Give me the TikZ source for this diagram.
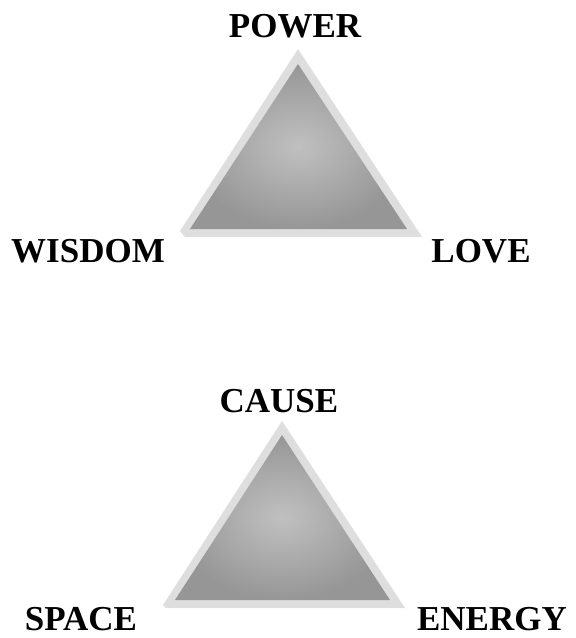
\documentclass[tikz,border=0pt]{standalone}
\usepackage{fontspec}
\setmainfont{Liberation Serif}
\definecolor{rimgray}{RGB}{222,222,222}
\definecolor{facedark}{RGB}{150,150,150}
\definecolor{facelight}{RGB}{192,192,192}
\usetikzlibrary{positioning}

\begin{document}
\begin{tikzpicture}[
  x=1pt,y=-1pt,
  every node/.style={font=\fontsize{35}{40}\selectfont\bfseries,inner sep=0pt},
  lbl/.style={anchor=base},
  rim/.style={fill=rimgray,draw=none},
  face/.style={inner color=facelight,outer color=facedark,draw=none},
]
  \useasboundingbox (0,0) rectangle (576,638);

  % Upper triangle
  \fill[rim] (298,49) -- (180,231) -- (185,237) -- (422,237) -- cycle;
  \shade[face] (298,64) -- (190,229) -- (407,229) -- cycle;
  \node[lbl] (power) at (295,37) {POWER};
  \node[lbl] (wisdom) at (88,262) {WISDOM};
  \node[lbl] (love) at (481,262) {LOVE};

  % Lower triangle
  \fill[rim] (282,421) -- (163,605) -- (166,608) -- (405,608) -- cycle;
  \shade[face] (282,435) -- (175,600) -- (390,600) -- cycle;
  \node[lbl] (cause) at (279,412) {CAUSE};
  \node[lbl] (space) at (81,630) {SPACE};
  \node[lbl] (energy) at (492,630) {ENERGY};
\end{tikzpicture}
\end{document}
